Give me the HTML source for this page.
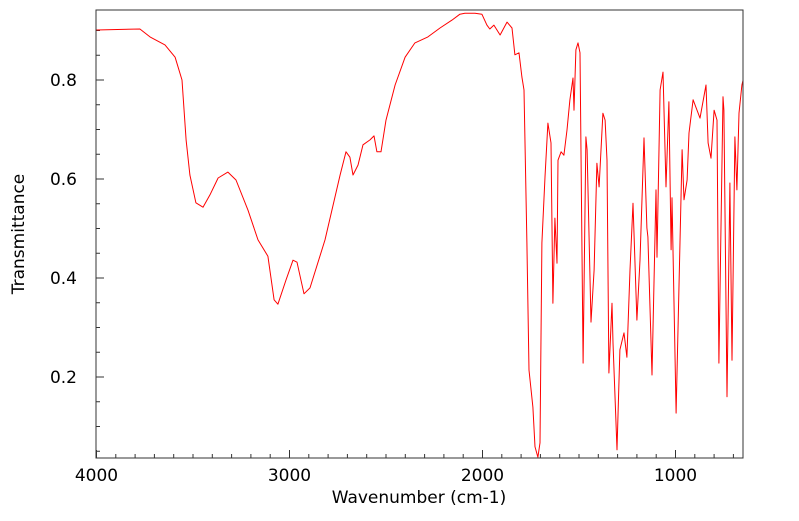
<!DOCTYPE html>
<html><head><meta charset="utf-8">
<style>
html,body{margin:0;padding:0;background:#fff;}
svg text{font-family:"DejaVu Sans","Liberation Sans",sans-serif;fill:#000;}
</style></head>
<body>
<svg id="chart" width="799" height="516" xmlns="http://www.w3.org/2000/svg">
<g id="axes"></g>
<polyline id="spectrum" fill="none" stroke="#ff0000" stroke-width="1" stroke-linejoin="round"></polyline>
<rect x="96" y="10" width="647" height="448" fill="none" stroke="#333" stroke-width="1"></rect>
<text x="419" y="503" font-size="17" text-anchor="middle">Wavenumber (cm-1)</text>
<text x="24" y="234" font-size="17" text-anchor="middle" transform="rotate(-90 24 234)">Transmittance</text>
</svg>
<script>
const wavenumbers=[4000,3775,3723,3645,3593,3557,3536,3516,3485,3448,3412,3370,3319,3277,3215,3163,3112,3080,3060,3018,2982,2961,2925,2894,2816,2738,2707,2687,2671,2645,2619,2583,2562,2547,2526,2500,2453,2401,2350,2283,2220,2158,2117,2091,2039,2003,1977,1962,1941,1909,1873,1847,1832,1811,1796,1785,1770,1759,1739,1728,1713,1702,1692,1676,1661,1645,1635,1625,1614,1609,1593,1578,1562,1547,1531,1526,1516,1505,1495,1479,1464,1458,1438,1422,1407,1396,1376,1365,1355,1345,1329,1324,1303,1288,1267,1252,1236,1220,1200,1184,1163,1148,1143,1122,1101,1096,1080,1065,1049,1034,1023,1018,997,966,956,940,930,909,873,842,831,816,800,785,775,754,749,733,718,707,692,682,671,656,650];
const transmittance=[0.901,0.903,0.887,0.871,0.846,0.80,0.679,0.608,0.552,0.543,0.568,0.602,0.614,0.598,0.537,0.477,0.444,0.356,0.347,0.396,0.436,0.432,0.368,0.380,0.477,0.608,0.655,0.644,0.608,0.628,0.669,0.679,0.687,0.655,0.655,0.719,0.790,0.846,0.875,0.887,0.905,0.921,0.933,0.935,0.935,0.933,0.911,0.903,0.911,0.891,0.917,0.905,0.851,0.855,0.806,0.780,0.471,0.214,0.139,0.059,0.038,0.067,0.471,0.604,0.713,0.673,0.349,0.521,0.430,0.638,0.655,0.648,0.699,0.760,0.804,0.739,0.861,0.875,0.855,0.228,0.685,0.659,0.311,0.416,0.632,0.584,0.733,0.719,0.638,0.208,0.349,0.269,0.053,0.255,0.289,0.240,0.416,0.551,0.315,0.436,0.683,0.501,0.483,0.204,0.578,0.442,0.780,0.816,0.584,0.756,0.457,0.562,0.127,0.659,0.558,0.598,0.693,0.760,0.723,0.790,0.673,0.642,0.739,0.719,0.228,0.766,0.739,0.160,0.592,0.234,0.685,0.578,0.733,0.790,0.80];
const xTickLabels=[4000,3000,2000,1000];
const yTickLabels=[0.2,0.4,0.6,0.8];
const X0=96.5,PX_PER_WN=0.193;
function xs(w){return X0+(4000-w)*PX_PER_WN;}
function ys(t){return 80+(0.8-t)*495;}
const NS="http://www.w3.org/2000/svg";
const axes=document.getElementById('axes');
function line(x1,y1,x2,y2,name){
  const l=document.createElementNS(NS,'line');
  l.setAttribute('x1',x1);l.setAttribute('y1',y1);l.setAttribute('x2',x2);l.setAttribute('y2',y2);
  l.setAttribute('stroke','#333');l.setAttribute('stroke-width','1');
  
  
  axes.appendChild(l);
}
for(let w=4000;w>=700;w-=100){
  const x=xs(w);const major=(w%1000===0);
  line(x,458,x,major?450:454,'x-tick');
}
for(let t=0.05;t<0.94;t+=0.05){
  const y=ys(t);const major=Math.abs(t*5-Math.round(t*5))<1e-6;
  line(96,y,major?104:100,y,'y-tick');
}
xTickLabels.forEach(w=>{
  const tx=document.createElementNS(NS,'text');
  tx.setAttribute('x',xs(w));tx.setAttribute('y',481);tx.setAttribute('font-size','17');tx.setAttribute('text-anchor','middle');
  tx.textContent=w;
  
  
  axes.appendChild(tx);
});
yTickLabels.forEach(t=>{
  const tx=document.createElementNS(NS,'text');
  tx.setAttribute('x',77);tx.setAttribute('y',ys(t)+6);tx.setAttribute('font-size','17');tx.setAttribute('text-anchor','end');
  tx.textContent=t.toFixed(1);
  
  
  axes.appendChild(tx);
});
document.getElementById('spectrum').setAttribute('points',wavenumbers.map((w,i)=>xs(w).toFixed(1)+','+ys(transmittance[i]).toFixed(1)).join(' '));
</script>
</body></html>
